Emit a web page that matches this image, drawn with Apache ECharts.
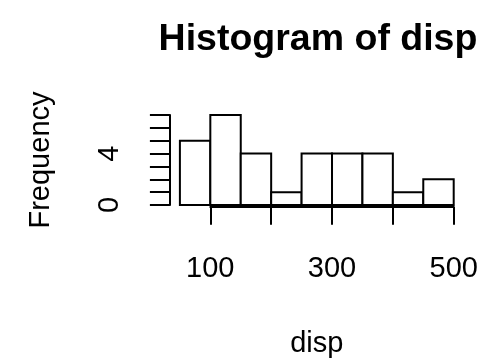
<!DOCTYPE html>
<html><head><meta charset="utf-8">
<script src="https://cdn.jsdelivr.net/npm/echarts@6/dist/echarts.min.js"></script>
<style>html,body{margin:0;padding:0;background:#fff}#c{width:502px;height:359px}</style>
</head><body><div id="c"></div>
<script>
const binStarts = [50, 100, 150, 200, 250, 300, 350, 400, 450];
const binEnds = [100, 150, 200, 250, 300, 350, 400, 450, 500];
const counts = [5, 7, 4, 1, 4, 4, 4, 1, 2];
const xTickLabels = ['100', '300', '500'];
const yTickLabels = ['0', '4'];

const FONT = 'Liberation Sans, Arial, Helvetica, sans-serif';
const data = binStarts.map((s, i) => [s, binEnds[i], counts[i]]);
const chart = echarts.init(document.getElementById('c'), null, {renderer: 'canvas'});
const gTop = 115, gBottom = 359 - 206.7;
chart.setOption({
  animation: false,
  backgroundColor: '#fff',
  title: {
    text: 'Histogram of disp', left: 313, top: 16, textAlign: 'center',
    textStyle: {fontFamily: FONT, fontSize: 37.5, fontWeight: 'bold', color: '#000'}
  },
  grid: [
    {left: 179.9, width: 273.8, top: gTop, bottom: gBottom},
    {left: 210.3, width: 243.4, top: gTop, bottom: gBottom}
  ],
  xAxis: [
    {gridIndex: 0, type: 'value', min: 50, max: 500, show: true,
     axisLine: {show: false}, axisTick: {show: false}, axisLabel: {show: false}, splitLine: {show: false},
     name: 'disp', nameLocation: 'middle', nameGap: 124,
     nameTextStyle: {fontFamily: FONT, fontSize: 29, color: '#000'}},
    {gridIndex: 1, type: 'value', min: 100, max: 500, interval: 100, offset: 4,
     axisLine: {show: true, lineStyle: {color: '#000', width: 2}},
     axisTick: {show: true, length: 18, lineStyle: {color: '#000', width: 2}},
     splitLine: {show: false},
     axisLabel: {margin: 44, fontFamily: FONT, fontSize: 29, color: '#000',
       formatter: v => xTickLabels.includes(String(v)) ? String(v) : ''}}
  ],
  yAxis: [
    {gridIndex: 0, type: 'value', min: 0, max: 7, interval: 1, offset: 10,
     axisLine: {show: true, lineStyle: {color: '#000', width: 2}},
     axisTick: {show: true, length: 20, lineStyle: {color: '#000', width: 2}},
     splitLine: {show: false},
     axisLabel: {margin: 45, rotate: 90, fontFamily: FONT, fontSize: 29, color: '#000',
       formatter: v => yTickLabels.includes(String(v)) ? String(v) : ''},
     name: 'Frequency', nameLocation: 'middle', nameGap: 114, nameRotate: 90,
     nameTextStyle: {fontFamily: FONT, fontSize: 29, color: '#000'}},
    {gridIndex: 1, type: 'value', min: 0, max: 7, show: false}
  ],
  series: [{
    type: 'custom', xAxisIndex: 0, yAxisIndex: 0,
    data: data,
    encode: {x: [0, 1], y: 2},
    renderItem: (params, api) => {
      const p0 = api.coord([api.value(0), api.value(2)]);
      const p1 = api.coord([api.value(1), 0]);
      return {type: 'rect', shape: {x: p0[0], y: p0[1], width: p1[0] - p0[0], height: p1[1] - p0[1]},
        style: {fill: '#fff', stroke: '#000', lineWidth: 2}};
    }
  }]
});
</script></body></html>
